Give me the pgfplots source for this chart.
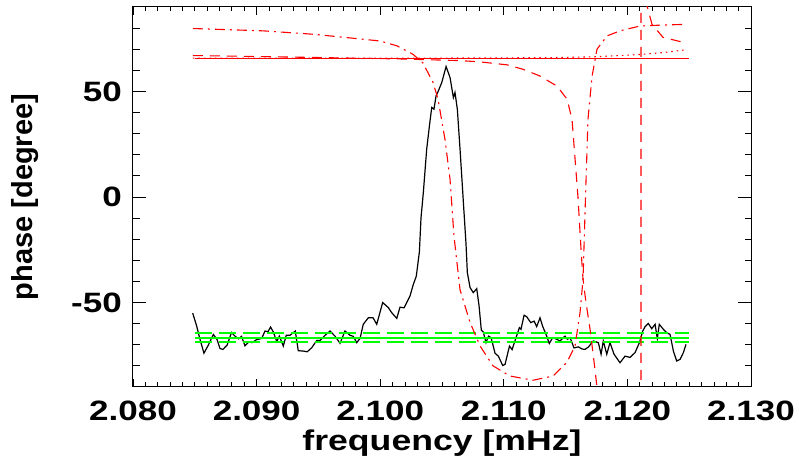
\documentclass[border=0pt]{standalone}
\usepackage{fontspec}
\setmainfont{Liberation Sans}
\newfontfamily\widefont[FakeStretch=1.25]{Liberation Sans}
\usepackage{pgfplots}
\pgfplotsset{compat=1.18}
\definecolor{pred}{RGB}{255,0,0}
\definecolor{pgreen}{RGB}{0,255,0}

\begin{document}
\begin{tikzpicture}
\begin{axis}[
  scale only axis, width=618pt, height=380pt,
  xmin=2.08, xmax=2.13, ymin=-90, ymax=90,
  xtick={2.08,2.09,2.10,2.11,2.12,2.13},
  xticklabels={2.080,2.090,2.100,2.110,2.120,2.130},
  minor x tick num=9,
  ytick={-50,0,50},
  yticklabels={-50,0,50},
  minor ytick={-80,-70,-60,-40,-30,-20,-10,10,20,30,40,60,70,80},
  tick align=inside,
  major tick length=13pt, minor tick length=6.5pt,
  major x tick style={/pgfplots/major tick length=8pt},
  minor x tick style={/pgfplots/minor tick length=4.5pt},
  every tick/.style={black, line width=0.8pt},
  axis line style={black, line width=1pt},
  xticklabel style={font=\widefont\fontsize{28}{34}\selectfont\bfseries, anchor=base, inner sep=0pt, yshift=-34pt},
  yticklabel style={font=\widefont\fontsize{28}{34}\selectfont\bfseries, anchor=east, inner sep=0pt, xshift=-11pt},
  xlabel={frequency [mHz]},
  ylabel={phase [degree]},
  xlabel style={font=\widefont\fontsize{28.5}{34}\selectfont\bfseries, at={(axis description cs:0.5,-0.1658)}, anchor=base, inner sep=0pt},
  ylabel style={font=\fontsize{29}{34}\selectfont\bfseries, at={(axis description cs:-0.175,0.5)}, anchor=center, inner sep=0pt},
  clip=true,
]
% observed phase
\addplot[black, line width=1.2pt] coordinates {
(2.08483,-55.0)(2.08515,-61.1)(2.08542,-67.4)(2.08574,-74.0)(2.08609,-70.2)
(2.08650,-65.1)(2.08680,-67.5)(2.08704,-71.8)(2.08728,-72.2)(2.08761,-70.2)
(2.08797,-64.2)(2.08825,-65.9)(2.08854,-67.2)(2.08878,-66.0)(2.08906,-70.5)
(2.08939,-68.5)(2.08963,-69.0)(2.08999,-67.6)(2.09041,-67.0)(2.09068,-63.5)
(2.09092,-63.8)(2.09113,-61.6)(2.09135,-63.9)(2.09163,-68.5)(2.09184,-65.9)
(2.09216,-70.6)(2.09240,-65.5)(2.09270,-65.5)(2.09313,-63.5)(2.09337,-72.8)
(2.09378,-73.0)(2.09410,-73.3)(2.09446,-71.4)(2.09486,-68.0)(2.09513,-68.0)
(2.09554,-65.5)(2.09594,-63.5)(2.09634,-65.9)(2.09675,-69.3)(2.09715,-63.5)
(2.09756,-65.5)(2.09782,-66.0)(2.09810,-69.0)(2.09837,-67.0)(2.09863,-60.3)
(2.09904,-57.2)(2.09942,-57.2)(2.09972,-60.3)(2.10020,-50.0)(2.10066,-52.4)
(2.10093,-54.8)(2.10134,-57.5)(2.10160,-52.2)(2.10193,-52.5)(2.10241,-46.9)
(2.10268,-41.4)(2.10292,-37.5)(2.10317,-26.0)(2.10330,-10.0)(2.10349,2.1)
(2.10376,22.6)(2.10403,36.0)(2.10417,42.4)(2.10435,41.6)(2.10452,47.9)
(2.10470,50.2)(2.10498,54.2)(2.10533,61.8)(2.10565,56.6)(2.10592,47.1)
(2.10605,49.5)(2.10624,41.6)(2.10646,22.6)(2.10673,-2.6)(2.10694,-22.0)
(2.10705,-35.8)(2.10727,-42.9)(2.10753,-45.3)(2.10781,-43.4)(2.10800,-51.7)
(2.10818,-63.0)(2.10834,-64.0)(2.10856,-69.0)(2.10876,-65.9)(2.10897,-66.6)
(2.10929,-74.0)(2.10956,-75.4)(2.10991,-79.8)(2.11010,-79.3)(2.11046,-70.6)
(2.11067,-72.3)(2.11099,-66.6)(2.11126,-61.9)(2.11139,-62.7)(2.11164,-56.0)
(2.11185,-56.7)(2.11218,-59.5)(2.11245,-58.8)(2.11266,-61.4)(2.11293,-57.2)
(2.11315,-61.4)(2.11342,-65.1)(2.11368,-69.4)(2.11396,-66.6)(2.11428,-67.4)
(2.11455,-68.2)(2.11495,-65.9)(2.11514,-67.4)(2.11536,-66.6)(2.11568,-71.5)
(2.11603,-71.0)(2.11633,-72.0)(2.11657,-72.2)(2.11684,-71.1)(2.11724,-68.2)
(2.11765,-69.0)(2.11787,-74.5)(2.11805,-68.2)(2.11833,-74.5)(2.11859,-69.0)
(2.11892,-74.5)(2.11940,-78.5)(2.11981,-75.4)(2.12021,-76.0)(2.12062,-73.7)
(2.12097,-69.0)(2.12124,-63.5)(2.12143,-61.4)(2.12169,-59.9)(2.12197,-62.4)
(2.12224,-60.3)(2.12242,-67.1)(2.12258,-60.3)(2.12291,-62.7)(2.12318,-64.3)
(2.12345,-65.1)(2.12372,-73.0)(2.12399,-77.7)(2.12426,-76.9)(2.12453,-73.7)
(2.12474,-69.8)
};
% noise level: mean and spread
\addplot[pgreen, line width=2pt] coordinates {(2.085,-66.6)(2.125,-66.6)};
\addplot[pgreen, line width=2pt, dash pattern=on 17pt off 7pt] coordinates {(2.085,-64.6)(2.125,-64.6)};
\addplot[pgreen, line width=2pt, dash pattern=on 17pt off 7pt] coordinates {(2.085,-68.7)(2.125,-68.7)};
% model phases
\addplot[pred, line width=1.1pt] coordinates {(2.085,65.8)(2.125,65.8)};
\addplot[pred, line width=1.1pt, dash pattern=on 1.5pt off 4pt] coordinates {
(2.08485,65.8)(2.10500,65.8)(2.11374,66.0)(2.11722,66.4)(2.11940,67.0)
(2.12126,67.6)(2.12304,68.5)(2.12482,69.8)};
\addplot[pred, line width=1.1pt, dash pattern=on 10pt off 7pt] coordinates {
(2.08485,67.0)(2.08947,66.6)(2.09351,66.2)(2.09756,65.8)(2.10160,65.4)
(2.10403,65.0)(2.10646,64.6)(2.10808,64.0)(2.11026,62.6)(2.11155,60.5)
(2.11293,57.3)(2.11431,52.5)(2.11512,46.3)(2.11552,36.8)(2.11600,0.0)
(2.11625,-25.0)(2.11641,-39.0)(2.11665,-50.0)(2.11698,-62.7)(2.11730,-78.0)
(2.11754,-90.0)(2.11779,-100.0)(2.12000,-200.0)(2.12110,-270.0)(2.12110,100.0)
(2.12159,90.5)(2.12199,81.8)(2.12288,75.6)(2.12401,74.0)(2.12482,72.8)};
\addplot[pred, line width=1.1pt, dash pattern=on 10pt off 5pt on 2pt off 5pt] coordinates {
(2.08485,79.8)(2.09052,78.7)(2.09456,77.1)(2.09731,75.5)(2.09998,73.9)
(2.10136,71.6)(2.10265,67.6)(2.10346,63.5)(2.10427,54.3)(2.10468,46.3)
(2.10524,27.3)(2.10565,8.4)(2.10597,-18.6)(2.10646,-44.0)(2.10727,-59.4)
(2.10808,-70.6)(2.10913,-80.0)(2.11050,-84.8)(2.11236,-86.8)(2.11398,-84.8)
(2.11511,-78.3)(2.11576,-70.6)(2.11617,-54.6)(2.11641,-39.0)(2.11661,0.0)
(2.11681,36.8)(2.11714,57.2)(2.11754,70.0)(2.11835,76.3)(2.11940,78.7)
(2.12102,81.0)(2.12264,81.4)(2.12482,81.8)};
\end{axis}
\pgfresetboundingbox
\path[use as bounding box] (-133pt,-78pt) rectangle (666pt,387pt);
\end{tikzpicture}
\end{document}
